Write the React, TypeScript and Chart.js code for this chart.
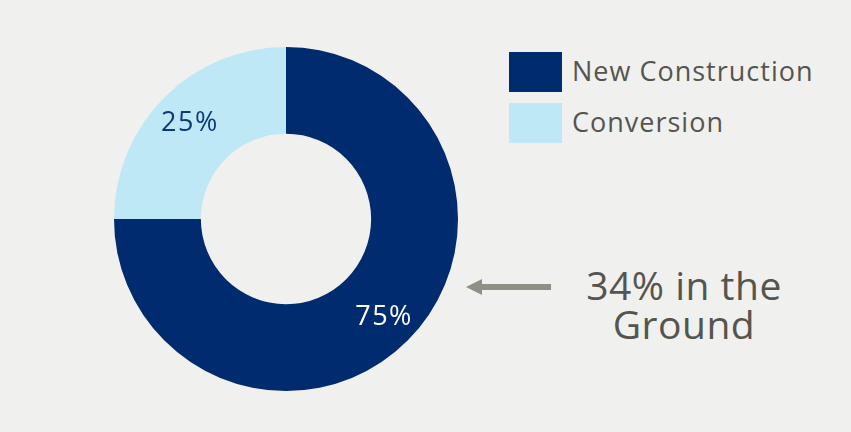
import React, { useEffect, useRef } from "react";
import { Chart, registerables } from "chart.js";

Chart.register(...registerables);

const categories = ["New Construction", "Conversion"];
const values = [75, 25];
const colors = ["#002b6e", "#bfe8f6"];
const labelColors = ["#ffffff", "#0f3a7a"];
const annotationLines = ["34% in the", "Ground"];

const FONT = "'Open Sans', sans-serif";
const BG = "#f0f0ee";
const TEXT = "#55554f";

const pctLabels = {
  id: "pctLabels",
  afterDatasetsDraw(chart: any) {
    const ctx = chart.ctx;
    const meta = chart.getDatasetMeta(0);
    const total = values.reduce((a, b) => a + b, 0);
    meta.data.forEach((arc: any, i: number) => {
      const p = arc.getProps(["x", "y", "startAngle", "endAngle", "innerRadius", "outerRadius"], true);
      const mid = (p.startAngle + p.endAngle) / 2;
      const r = p.innerRadius + 0.6 * (p.outerRadius - p.innerRadius);
      const x = p.x + Math.cos(mid) * r;
      const y = p.y + Math.sin(mid) * r;
      ctx.save();
      ctx.fillStyle = labelColors[i];
      ctx.font = `27px ${FONT}`;
      try {
        (ctx as any).letterSpacing = "1.5px";
      } catch (e) {}
      ctx.textAlign = "center";
      ctx.textBaseline = "middle";
      ctx.fillText(`${Math.round((values[i] / total) * 100)}%`, x + 1, y + 1);
      ctx.restore();
    });
  },
};

export default function App() {
  const ref = useRef<HTMLCanvasElement | null>(null);

  useEffect(() => {
    if (!ref.current) return;
    const chart = new Chart(ref.current, {
      type: "doughnut",
      data: {
        labels: categories,
        datasets: [
          {
            data: values,
            backgroundColor: colors,
            borderWidth: 0,
          },
        ],
      },
      options: {
        animation: false,
        responsive: false,
        cutout: "49.5%",
        layout: { padding: 0 },
        plugins: {
          legend: { display: false },
          tooltip: { enabled: false },
        },
      },
      plugins: [pctLabels],
    });
    return () => chart.destroy();
  }, []);

  return (
    <div
      style={{
        position: "fixed",
        left: 0,
        top: 0,
        width: 851,
        height: 432,
        background: BG,
        fontFamily: FONT,
        color: TEXT,
        overflow: "hidden",
      }}
    >
      <canvas
        ref={ref}
        width={344}
        height={344}
        style={{ position: "absolute", left: 114, top: 47, width: 344, height: 344 }}
      />
      {categories.map((c, i) => (
        <div key={c}>
          <div
            style={{
              position: "absolute",
              left: 509,
              top: 52 + i * 51,
              width: 53,
              height: 40,
              background: colors[i],
            }}
          />
          <div
            style={{
              position: "absolute",
              left: 572,
              top: 51 + i * 51,
              height: 40,
              lineHeight: "40px",
              fontSize: 27,
              letterSpacing: "1px",
              whiteSpace: "nowrap",
            }}
          >
            {c}
          </div>
        </div>
      ))}
      <svg
        style={{ position: "absolute", left: 460, top: 276, width: 100, height: 24 }}
        width={100}
        height={24}
      >
        <line x1={20} y1={11} x2={91} y2={11} stroke="#8f8f86" strokeWidth={6} />
        <polygon points="6,11 22,3 22,19" fill="#8f8f86" />
      </svg>
      <div
        style={{
          position: "absolute",
          left: 559,
          top: 265,
          width: 250,
          textAlign: "center",
          fontSize: 39,
          lineHeight: "39px",
          letterSpacing: "0.5px",
        }}
      >
        {annotationLines.map((l) => (
          <div key={l}>{l}</div>
        ))}
      </div>
    </div>
  );
}
